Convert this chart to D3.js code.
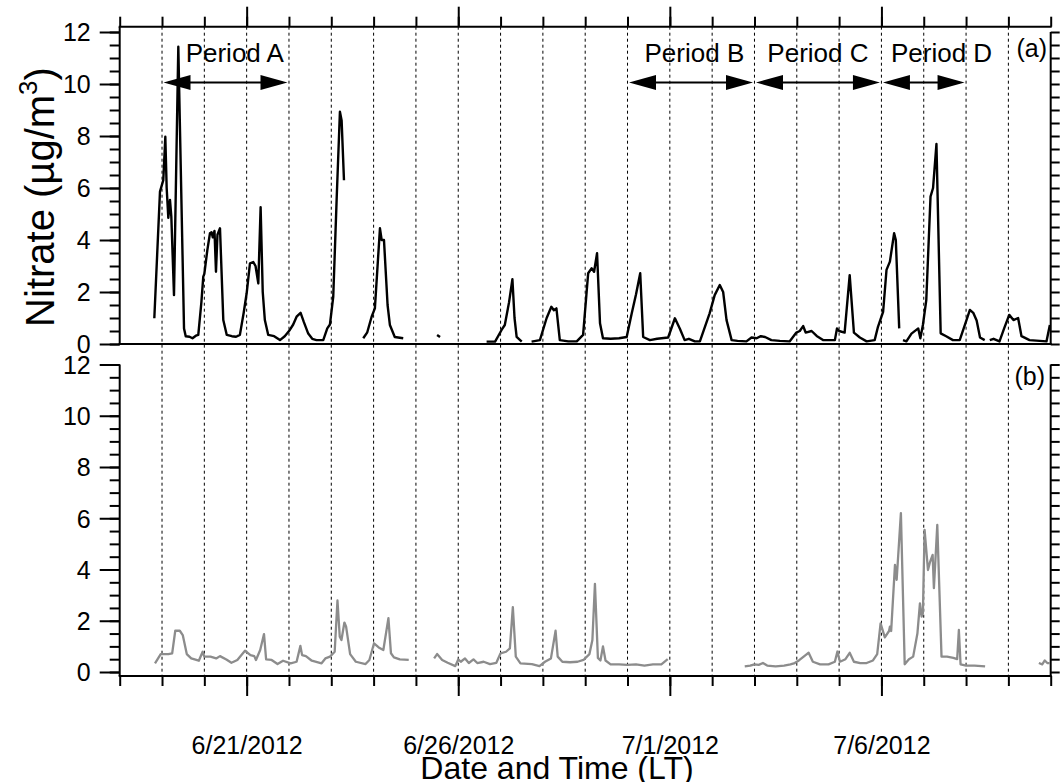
<!DOCTYPE html>
<html><head><meta charset="utf-8">
<script src="https://cdn.jsdelivr.net/npm/d3@7"></script>
<style>body{margin:0;background:#fff} text{font-family:"Liberation Sans",Arial,Helvetica,sans-serif;fill:#000}</style>
</head><body><svg id="c" width="1063" height="782"></svg>
<script>
// ---- data (time = days since 6/18/2012 00:00 LT, value = nitrate µg/m3, null = gap) ----
const startDay = [2012, 5, 18];
const totalDays = 22;
const majorTickDays = [3, 8, 13, 18];              // 6/21, 6/26, 7/1, 7/6
const yMajorTicks = [0, 2, 4, 6, 8, 10, 12];
const periodNames = ["Period A", "Period B", "Period C", "Period D"];
const periodStart = [1, 12, 15, 18];
const periodEnd = [4, 15, 18, 20];
const periodLabelAt = [2.72, 13.58, 16.5, 19.42];
const panelLabels = ["(a)", "(b)"];

const seriesA = [
[0.818,0.99],[0.952,5.86],[1.03,6.3],[1.078,7.97],[1.11,6.0],[1.149,4.85],[1.188,5.54],[1.22,4.9],[1.283,1.88],[1.385,11.43],[1.52,0.6],[1.56,0.3],[1.65,0.28],[1.72,0.22],[1.8,0.32],[1.857,0.35],[1.93,1.6],[1.975,2.59],[2.0,2.7],[2.07,3.6],[2.133,4.26],[2.17,4.3],[2.2,4.1],[2.24,4.35],[2.275,2.78],[2.31,4.2],[2.37,4.45],[2.448,0.92],[2.53,0.35],[2.65,0.3],[2.75,0.28],[2.84,0.35],[2.93,1.2],[3.0,1.95],[3.078,3.1],[3.157,3.15],[3.21,3.0],[3.275,2.33],[3.33,5.26],[3.38,2.0],[3.43,0.92],[3.51,0.35],[3.65,0.3],[3.787,0.15],[3.9,0.3],[4.02,0.54],[4.1,0.75],[4.18,1.05],[4.275,1.2],[4.35,0.85],[4.455,0.4],[4.55,0.2],[4.65,0.15],[4.81,0.15],[4.905,0.6],[4.968,0.75],[5.046,1.81],[5.126,5.54],[5.204,8.93],[5.244,8.6],[5.3,6.3],[5.3,null],
[5.755,0.22],[5.85,0.45],[5.953,1.05],[6.03,1.37],[6.15,4.45],[6.19,4.0],[6.245,4.0],[6.33,1.5],[6.385,0.73],[6.5,0.27],[6.7,0.22],[6.7,null],
[7.5,0.35],[7.57,0.27],[7.57,null],
[8.67,0.09],[8.87,0.09],[9.024,0.54],[9.1,0.73],[9.2,1.6],[9.28,2.49],[9.33,1.0],[9.38,0.27],[9.5,0.09],[9.5,null],
[9.733,0.09],[9.93,0.15],[10.087,0.99],[10.2,1.43],[10.26,1.3],[10.32,1.37],[10.4,0.15],[10.6,0.1],[10.8,0.1],[10.95,0.35],[11.07,2.72],[11.15,2.91],[11.21,2.78],[11.28,3.49],[11.35,0.8],[11.42,0.22],[11.6,0.2],[11.8,0.22],[11.98,0.27],[12.1,1.18],[12.2,1.9],[12.3,2.72],[12.37,0.27],[12.53,0.15],[12.7,0.2],[12.96,0.25],[13.12,0.99],[13.24,0.58],[13.35,0.15],[13.45,0.2],[13.59,0.1],[13.71,0.1],[13.94,1.18],[14.06,1.88],[14.18,2.27],[14.26,2.0],[14.34,0.92],[14.46,0.15],[14.6,0.12],[14.81,0.1],[14.93,0.25],[15.05,0.22],[15.15,0.3],[15.25,0.27],[15.4,0.15],[15.6,0.12],[15.83,0.1],[15.99,0.44],[16.07,0.5],[16.15,0.69],[16.21,0.44],[16.35,0.5],[16.47,0.31],[16.62,0.15],[16.9,0.15],[16.95,0.6],[17.0,0.5],[17.13,0.44],[17.25,2.65],[17.35,0.44],[17.49,0.25],[17.65,0.1],[17.84,0.15],[17.92,0.67],[18.04,1.24],[18.12,2.85],[18.2,3.17],[18.3,4.26],[18.34,4.0],[18.42,0.6],[18.42,null],
[18.51,0.15],[18.59,0.1],[18.71,0.4],[18.87,0.6],[18.92,0.22],[18.98,0.73],[19.06,1.69],[19.16,5.67],[19.22,6.0],[19.3,7.69],[19.4,0.41],[19.53,0.3],[19.69,0.15],[19.85,0.15],[20.01,0.92],[20.09,1.31],[20.17,1.2],[20.25,0.9],[20.33,0.25],[20.44,0.15],[20.44,null],
[20.56,0.15],[20.65,0.2],[20.79,0.1],[20.9,0.6],[21.02,1.12],[21.12,0.92],[21.23,1.0],[21.31,0.3],[21.5,0.15],[21.9,0.1],[21.98,0.73]
];

const seriesB = [
[0.834,0.34],[0.969,0.7],[1.15,0.7],[1.24,0.73],[1.313,1.61],[1.42,1.61],[1.49,1.44],[1.585,0.7],[1.69,0.53],[1.87,0.44],[1.96,0.79],[2.0,0.6],[2.145,0.6],[2.28,0.53],[2.37,0.62],[2.52,0.49],[2.64,0.36],[2.78,0.47],[2.96,0.83],[3.09,0.66],[3.18,0.62],[3.22,0.47],[3.32,0.86],[3.41,1.48],[3.46,0.49],[3.59,0.47],[3.73,0.31],[3.86,0.44],[4.04,0.34],[4.18,0.4],[4.27,1.02],[4.31,0.66],[4.4,0.62],[4.54,0.44],[4.77,0.34],[4.86,0.53],[4.97,0.6],[5.08,0.79],[5.146,2.79],[5.2,1.38],[5.24,1.25],[5.31,1.93],[5.35,1.77],[5.445,0.7],[5.58,0.4],[5.81,0.31],[5.9,0.47],[6.01,1.12],[6.12,0.96],[6.23,0.86],[6.35,2.1],[6.41,0.73],[6.48,0.57],[6.62,0.49],[6.83,0.47],[6.83,null],
[7.43,0.53],[7.5,0.7],[7.62,0.47],[7.75,0.36],[7.93,0.23],[8.0,0.49],[8.06,0.4],[8.16,0.53],[8.25,0.35],[8.36,0.49],[8.45,0.35],[8.6,0.4],[8.75,0.31],[8.9,0.36],[9.0,0.73],[9.13,0.79],[9.22,0.92],[9.29,2.53],[9.36,0.6],[9.47,0.34],[9.74,0.31],[9.92,0.23],[10.05,0.4],[10.19,0.53],[10.3,1.61],[10.35,0.6],[10.46,0.4],[10.64,0.38],[10.82,0.4],[10.96,0.47],[11.1,0.7],[11.17,1.25],[11.23,3.44],[11.3,0.55],[11.36,0.45],[11.42,1.0],[11.48,0.45],[11.6,0.3],[11.8,0.3],[12.0,0.28],[12.2,0.3],[12.4,0.25],[12.6,0.3],[12.8,0.3],[12.95,0.5],[12.95,null],
[14.77,0.22],[14.9,0.25],[15.0,0.3],[15.1,0.28],[15.2,0.35],[15.3,0.25],[15.5,0.22],[15.7,0.25],[15.85,0.3],[15.95,0.35],[16.05,0.45],[16.2,0.65],[16.28,0.75],[16.38,0.4],[16.55,0.3],[16.75,0.3],[16.9,0.4],[16.96,0.8],[17.02,0.4],[17.15,0.5],[17.25,0.75],[17.35,0.4],[17.5,0.35],[17.65,0.35],[17.8,0.45],[17.9,0.7],[17.98,1.9],[18.08,1.35],[18.18,1.6],[18.2,1.77],[18.23,1.6],[18.32,4.18],[18.36,3.6],[18.46,6.2],[18.55,0.3],[18.65,0.5],[18.75,0.6],[18.85,1.5],[18.91,2.68],[18.95,2.16],[18.98,2.3],[19.02,5.55],[19.1,3.98],[19.15,4.3],[19.21,4.57],[19.24,3.27],[19.32,5.74],[19.42,0.6],[19.55,0.6],[19.7,0.55],[19.79,0.5],[19.83,1.64],[19.87,0.3],[20.0,0.25],[20.2,0.25],[20.45,0.22],[20.45,null],
[21.72,0.35],[21.8,0.3],[21.86,0.45],[21.92,0.35],[21.98,0.35]
];

// ---- drawing ----
const svg = d3.select("#c");
const t0 = new Date(startDay[0], startDay[1], startDay[2]);
const toDate = d => new Date(t0.getTime() + d * 864e5);
const X0 = 119.7, X1 = 1050.7;
const aTop = 26.7, aBot = 344, bTop = 364.5, bBot = 676;
const x = d3.scaleTime().domain([toDate(0), toDate(totalDays)]).range([X0, X1]);
const yA = d3.scaleLinear().domain([0, 12]).range([344, 32]);
const yB = d3.scaleLinear().domain([0, 12]).range([672, 364.5]);
const allDays = d3.range(0, totalDays + 1).map(toDate);
const innerDays = d3.range(1, totalDays).map(toDate);
const majorDates = majorTickDays.map(toDate);
const minorY = d3.range(0, 12.01, 0.5);
const fmt = d3.timeFormat("%-m/%-d/%Y");

// day grid lines
svg.append("g").selectAll("line").data(innerDays).join("line")
  .attr("x1", d => x(d)).attr("x2", d => x(d))
  .attr("y1", aTop).attr("y2", bBot)
  .attr("stroke", "#000").attr("stroke-width", 1).attr("stroke-dasharray", "3,3");

function styleAxis(g) {
  g.select(".domain").remove();
  g.selectAll(".tick line").attr("stroke", "#000").attr("stroke-width", 2);
  g.selectAll("text").style("font-size", "25px").attr("fill", "#000");
}

// top axis
svg.append("g").attr("transform", `translate(0,${aTop})`)
  .call(d3.axisTop(x).tickValues(allDays).tickSize(10).tickFormat("")).call(styleAxis);
svg.append("g").attr("transform", `translate(0,${aTop})`)
  .call(d3.axisTop(x).tickValues(majorDates).tickSize(20).tickFormat("")).call(styleAxis);
// bottom axis
svg.append("g").attr("transform", `translate(0,${bBot})`)
  .call(d3.axisBottom(x).tickValues(allDays).tickSize(10).tickFormat("")).call(styleAxis);
const bx = svg.append("g").attr("transform", `translate(0,${bBot})`)
  .call(d3.axisBottom(x).tickValues(majorDates).tickSize(20).tickFormat(fmt)).call(styleAxis);
bx.selectAll("text").attr("y", 78).attr("dy", 0);

// left & right axes
function yAxes(y, top, bot) {
  svg.append("g").attr("transform", `translate(${X0},0)`)
    .call(d3.axisLeft(y).tickValues(minorY).tickSize(10).tickFormat("")).call(styleAxis);
  const g = svg.append("g").attr("transform", `translate(${X0},0)`)
    .call(d3.axisLeft(y).tickValues(yMajorTicks).tickSize(20).tickPadding(9).tickFormat(d3.format("d"))).call(styleAxis);
  g.selectAll("text").attr("dy", "0.35em");
  svg.append("g").attr("transform", `translate(${X1},0)`)
    .call(d3.axisRight(y).tickValues(minorY).tickSize(9).tickFormat("")).call(styleAxis);
  svg.append("line").attr("x1", X0).attr("x2", X0).attr("y1", top).attr("y2", bot).attr("stroke", "#000").attr("stroke-width", 2);
  svg.append("line").attr("x1", X1).attr("x2", X1).attr("y1", y(12)).attr("y2", bot).attr("stroke", "#000").attr("stroke-width", 2);
}
yAxes(yA, aTop, aBot);
yAxes(yB, bTop, bBot);
// horizontal frame lines
[aTop, aBot, bBot].forEach(yy => svg.append("line").attr("x1", X0 - 1).attr("x2", X1 + 1)
  .attr("y1", yy).attr("y2", yy).attr("stroke", "#000").attr("stroke-width", 2));

// series
const lineA = d3.line().defined(d => d[1] != null).x(d => x(toDate(d[0]))).y(d => yA(d[1]));
const lineB = d3.line().defined(d => d[1] != null).x(d => x(toDate(d[0]))).y(d => yB(d[1]));
svg.append("path").datum(seriesA).attr("d", lineA).attr("fill", "none")
  .attr("stroke", "#000").attr("stroke-width", 2.4).attr("stroke-linejoin", "round");
svg.append("path").datum(seriesB).attr("d", lineB).attr("fill", "none")
  .attr("stroke", "#8c8c8c").attr("stroke-width", 2.3).attr("stroke-linejoin", "round");

// period arrows
const arrowY = 82.5, headL = 27, headH = 7.5;
periodNames.forEach((name, i) => {
  const xs = x(toDate(periodStart[i])) + 1.5, xe = x(toDate(periodEnd[i])) - 1.5;
  svg.append("line").attr("x1", xs + 5).attr("x2", xe - 5).attr("y1", arrowY).attr("y2", arrowY)
    .attr("stroke", "#000").attr("stroke-width", 2);
  svg.append("path").attr("d", `M${xs},${arrowY}L${xs + headL},${arrowY - headH}L${xs + headL},${arrowY + headH}Z`).attr("fill", "#000");
  svg.append("path").attr("d", `M${xe},${arrowY}L${xe - headL},${arrowY - headH}L${xe - headL},${arrowY + headH}Z`).attr("fill", "#000");
  svg.append("text").attr("x", x(toDate(periodLabelAt[i]))).attr("y", 61.5)
    .attr("text-anchor", "middle").style("font-size", "26px").text(name);
});

// panel labels
svg.append("text").attr("x", 1047).attr("y", 57).attr("text-anchor", "end").style("font-size", "25px").text(panelLabels[0]);
svg.append("text").attr("x", 1045).attr("y", 385).attr("text-anchor", "end").style("font-size", "25px").text(panelLabels[1]);

// axis titles
svg.append("text").attr("x", 557).attr("y", 779).attr("text-anchor", "middle")
  .style("font-size", "32px").text("Date and Time (LT)");
const yt = svg.append("text").attr("transform", "translate(54,197) rotate(-90)")
  .attr("text-anchor", "middle").style("font-size", "40px");
yt.append("tspan").text("Nitrate (\u00B5g/m");
yt.append("tspan").attr("dy", -17).style("font-size", "26px").text("3");
yt.append("tspan").attr("dy", 17).text(")");
</script></body></html>
